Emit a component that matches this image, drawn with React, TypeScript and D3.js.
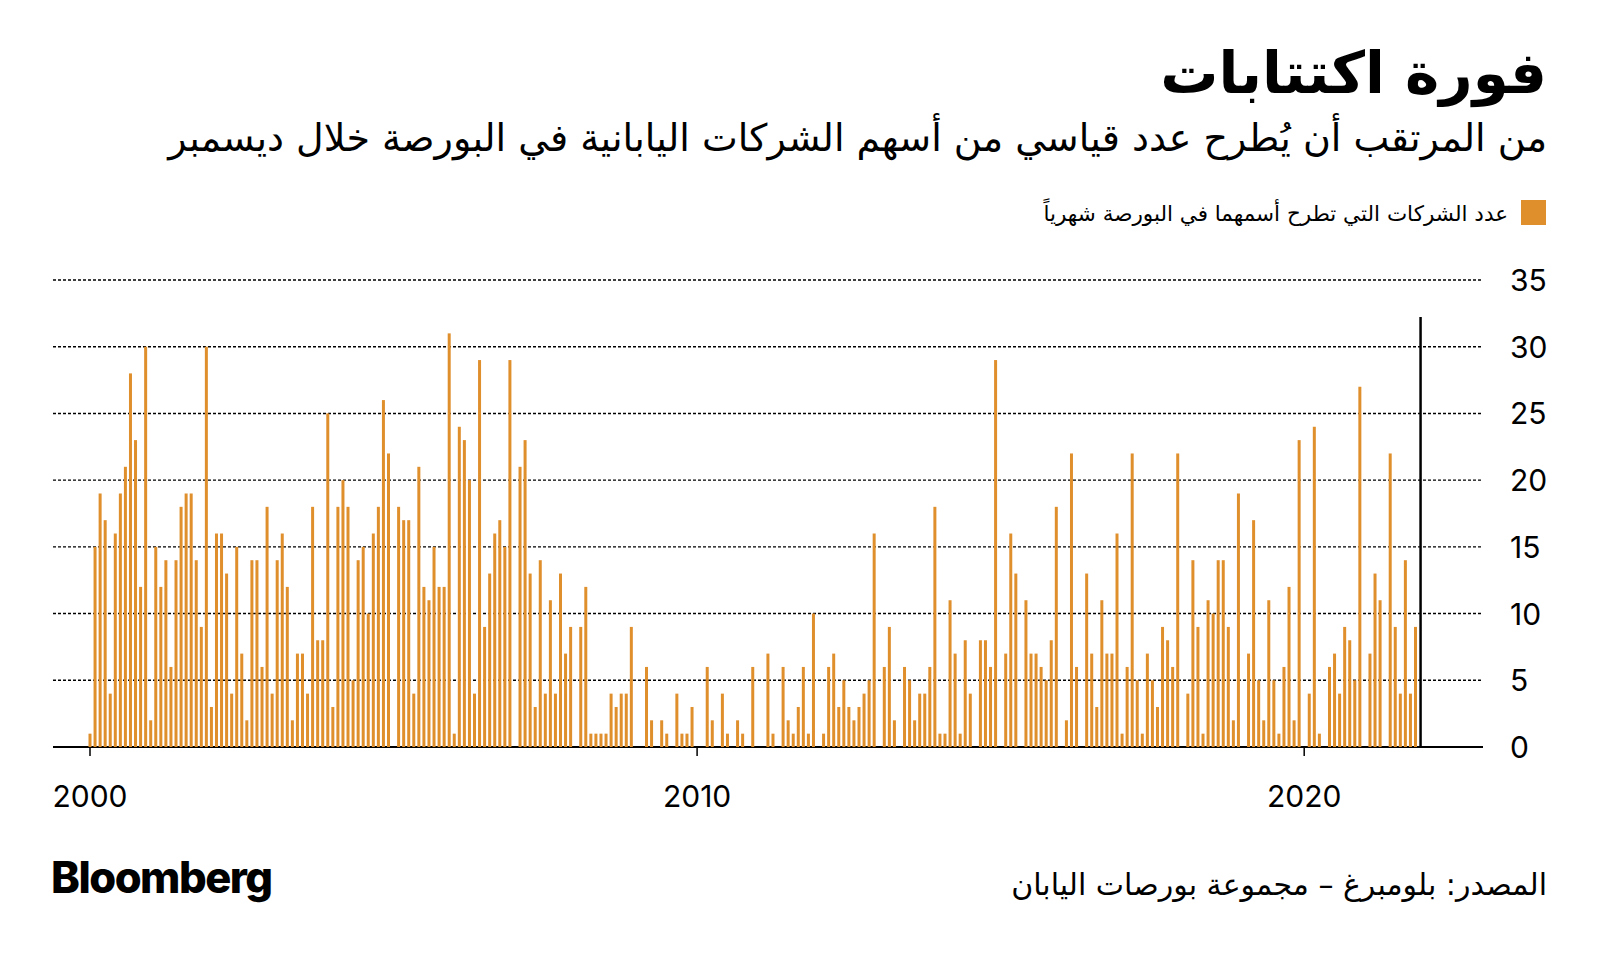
import React from "react";
import * as d3 from "d3";

// monthly IPO counts, Jan 2000 .. Nov 2021
const years = d3.range(2000, 2022);
const monthly: number[][] = [
  [1, 15, 19, 17, 4, 16, 19, 21, 28, 23, 12, 30],
  [2, 15, 12, 14, 6, 14, 18, 19, 19, 14, 9, 30],
  [3, 16, 16, 13, 4, 15, 7, 2, 14, 14, 6, 18],
  [4, 14, 16, 12, 2, 7, 7, 4, 18, 8, 8, 25],
  [3, 18, 20, 18, 5, 14, 15, 10, 16, 18, 26, 22],
  [0, 18, 17, 17, 4, 21, 12, 11, 15, 12, 12, 31],
  [1, 24, 23, 20, 4, 29, 9, 13, 16, 17, 15, 29],
  [0, 21, 23, 13, 3, 14, 4, 11, 4, 13, 7, 9],
  [0, 9, 12, 1, 1, 1, 1, 4, 3, 4, 4, 9],
  [0, 0, 6, 2, 0, 2, 1, 0, 4, 1, 1, 3],
  [0, 0, 6, 2, 0, 4, 1, 0, 2, 1, 0, 6],
  [0, 0, 7, 1, 0, 6, 2, 1, 3, 6, 1, 10],
  [0, 1, 6, 7, 3, 5, 3, 2, 3, 4, 5, 16],
  [0, 6, 9, 2, 0, 6, 5, 2, 4, 4, 6, 18],
  [1, 1, 11, 7, 1, 8, 4, 0, 8, 8, 6, 29],
  [0, 7, 16, 13, 0, 11, 7, 7, 6, 5, 8, 18],
  [0, 2, 22, 6, 0, 13, 7, 3, 11, 7, 7, 16],
  [1, 6, 22, 5, 1, 7, 5, 3, 9, 8, 6, 22],
  [0, 4, 14, 9, 1, 11, 10, 14, 14, 9, 2, 19],
  [0, 7, 17, 5, 2, 11, 5, 1, 6, 12, 2, 23],
  [0, 4, 24, 1, 0, 6, 7, 4, 9, 8, 5, 27],
  [0, 7, 13, 11, 0, 22, 9, 4, 14, 4, 9],
];
const yTicks = [0, 5, 10, 15, 20, 25, 30, 35];
const xTickYears = [2000, 2010, 2020];
const markerMonth = { year: 2021, month: 11 }; // December 2021

const title = "فورة اكتتابات";
const subtitle =
  "من المرتقب أن يُطرح عدد قياسي من أسهم الشركات اليابانية في البورصة خلال ديسمبر";
const legendLabel = "عدد الشركات التي تطرح أسمهما في البورصة شهرياً";
const source = "المصدر: بلومبرغ – مجموعة بورصات اليابان";

const ORANGE = "#E08F2D";
const ARABIC = "'DejaVu Sans', sans-serif";
const LATIN = "Inter, 'Liberation Sans', sans-serif";

const bars = years.flatMap((yr, yi) =>
  (monthly[yi] || []).map((v, m) => ({ idx: yi * 12 + m, value: v }))
);

export default function App() {
  const width = 1600;
  const height = 958;
  const gridLeft = 53;
  const gridRight = 1483;

  const x = d3.scaleLinear().domain([0, 262]).range([90, 1415.5]);
  const y = d3.scaleLinear().domain([0, 35]).range([747, 280]);
  const monthIdx = (yr: number, m: number) => (yr - 2000) * 12 + m;

  return (
    <svg
      width={width}
      height={height}
      style={{ position: "absolute", left: 0, top: 0, background: "#fff" }}
    >
      {/* header */}
      <text
        x={1547}
        y={93}
        textAnchor="end"
        fontFamily={ARABIC}
        fontWeight={700}
        fontSize={58}
        fill="#000"
      >
        {title}
      </text>
      <text
        x={1547}
        y={151}
        textAnchor="end"
        fontFamily={ARABIC}
        fontSize={38}
        fill="#000"
      >
        {subtitle}
      </text>

      {/* legend */}
      <rect x={1521} y={200} width={25} height={25} fill={ORANGE} />
      <text
        x={1508}
        y={221}
        textAnchor="end"
        fontFamily={ARABIC}
        fontSize={21.5}
        fill="#000"
      >
        {legendLabel}
      </text>

      {/* grid */}
      {yTicks.map((t) => (
        <g key={t}>
          <line
            x1={gridLeft}
            x2={gridRight}
            y1={y(t)}
            y2={y(t)}
            stroke="#000"
            strokeWidth={t === 0 ? 2 : 1.4}
            strokeDasharray={t === 0 ? undefined : "3,2"}
          />
          <text
            x={1510}
            y={y(t) + 11}
            fontFamily={LATIN}
            fontSize={30}
            fill="#000"
          >
            {t}
          </text>
        </g>
      ))}

      {/* bars */}
      {bars
        .filter((b) => b.value > 0)
        .map((b) => (
          <rect
            key={b.idx}
            x={x(b.idx) - 1.5}
            y={y(b.value)}
            width={3}
            height={y(0) - y(b.value)}
            fill={ORANGE}
          />
        ))}

      {/* current month marker */}
      <line
        x1={x(monthIdx(markerMonth.year, markerMonth.month))}
        x2={x(monthIdx(markerMonth.year, markerMonth.month))}
        y1={317}
        y2={y(0)}
        stroke="#000"
        strokeWidth={2.5}
      />

      {/* x axis */}
      {xTickYears.map((yr) => (
        <g key={yr}>
          <line
            x1={x(monthIdx(yr, 0))}
            x2={x(monthIdx(yr, 0))}
            y1={y(0)}
            y2={y(0) + 9}
            stroke="#000"
            strokeWidth={1.5}
          />
          <text
            x={x(monthIdx(yr, 0))}
            y={807}
            textAnchor="middle"
            fontFamily={LATIN}
            fontSize={30}
            fill="#000"
          >
            {yr}
          </text>
        </g>
      ))}

      {/* footer */}
      <text
        x={51}
        y={893}
        fontFamily={LATIN}
        fontWeight={800}
        fontSize={43.5}
        letterSpacing={-1.5}
        fill="#000"
      >
        Bloomberg
      </text>
      <text
        x={1547}
        y={895}
        textAnchor="end"
        fontFamily={ARABIC}
        fontSize={30}
        fill="#000"
      >
        {source}
      </text>
    </svg>
  );
}
